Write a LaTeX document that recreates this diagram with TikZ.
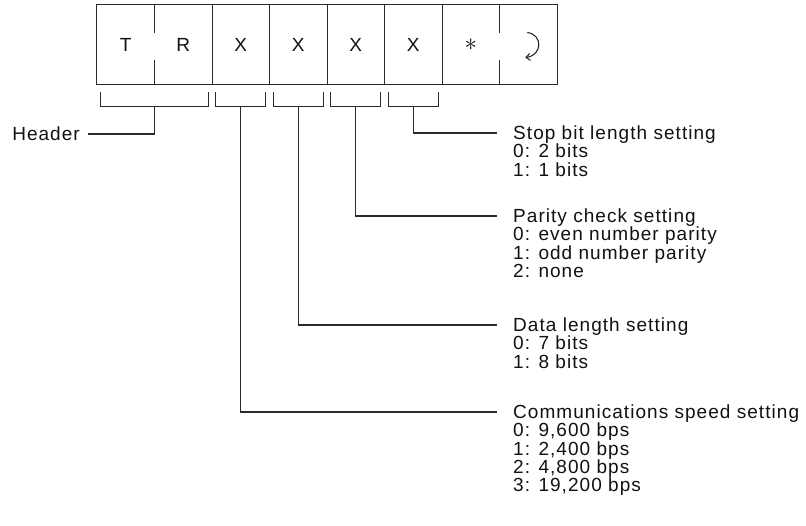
\documentclass[tikz,border=0pt]{standalone}
\usepackage{fontspec}
\setmainfont{Liberation Sans}[LetterSpace=5.5]
\usetikzlibrary{arrows.meta,positioning,calc}
\definecolor{ink}{HTML}{111111}
\definecolor{rule}{HTML}{2A2A2A}
\tikzset{
  every node/.append style = {text=ink},
  % --- command frame ------------------------------------------------------
  cell/.style    = {minimum width=57.5pt, minimum height=79pt, inner sep=0pt,
                    font=\fontsize{19}{18.2}\selectfont},
  frame/.style   = {draw=rule, line width=1.3pt},
  % --- brackets and leaders -----------------------------------------------
  bracket/.style = {draw=rule, line width=1.1pt},
  lead/.style    = {draw=rule, line width=1.1pt},
  % --- labels -------------------------------------------------------------
  title/.style   = {font=\fontsize{19}{18.2}\selectfont, inner sep=0pt,
                    anchor=west, text height=13.6pt, text depth=0pt},
  opts/.style    = {font=\fontsize{19}{18.2}\selectfont, inner sep=0pt,
                    anchor=north west, align=left},
}

\begin{document}
\begin{tikzpicture}[x=1pt, y=-1pt]
\useasboundingbox (0,0) rectangle (806,525);

% ============================ command frame ================================
\foreach \t [count=\i] in {T,R,X,X,X,X,{\fontsize{28}{28}\selectfont$\ast$},{}}
  \node[cell] (c\i) at ({97+57.5*(\i-0.5)},44.5) {\t};

\draw[frame] (c1.north west) rectangle (c8.south east);
\foreach \i in {2,...,6}{ \draw[frame] (c\i.north east) -- (c\i.south east); }
\foreach \i in {1,7}{
  \draw[frame] (c\i.north east) -- ++(0,28);
  \draw[frame] (c\i.south east) -- ++(0,-24);
}

% return mark
\draw[lead, -{Straight Barb[length=4pt,width=7pt]}]
  ([shift={(-1,-12)}]c8.center) .. controls ([shift={(15,-10)}]c8.center)
  and ([shift={(14,11)}]c8.center) .. ([shift={(-3,13)}]c8.center);

% ============================== brackets ===================================
\foreach \a/\b/\n in {1/2/hdr,3/3/spd,4/4/len,5/5/par,6/6/stp}{
  \draw[bracket] ([xshift=4pt,yshift=-8pt]c\a.south west) -- ++(0,14)
                 -| ([xshift=-4pt,yshift=-8pt]c\b.south east);
  \coordinate (\n) at ($(c\a.south west)!0.5!(c\b.south east)+(0,22)$);
}

% =============================== labels ====================================
\node[title, anchor=east] (header) at (80,134) {Header};

\node[title] (stop) at (513,133) {Stop bit length setting};
\node[opts] (stopL) at ([yshift=-4pt]stop.south west)
     {0: 2 bits\\1: 1 bits};

\node[title] (parity) at (513,216) {Parity check setting};
\node[opts] (parityL) at ([yshift=-4pt]parity.south west)
     {0: even number parity\\1: odd number parity\\2: none};

\node[title] (length) at (513,325) {Data length setting};
\node[opts] (lengthL) at ([yshift=-4pt]length.south west)
     {0: 7 bits\\1: 8 bits};

\node[title] (speed) at (513,412) {Communications speed setting};
\node[opts] (speedL) at ([yshift=-4pt]speed.south west)
     {0: 9,600 bps\\1: 2,400 bps\\2: 4,800 bps\\3: 19,200 bps};

% ============================== leaders ====================================
\draw[lead] (hdr) |- ([xshift=8pt]header.east);
\draw[lead] (stp) |- ([xshift=-16pt]stop.west);
\draw[lead] (par) |- ([xshift=-16pt]parity.west);
\draw[lead] (len) |- ([xshift=-16pt]length.west);
\draw[lead] (spd) |- ([xshift=-16pt]speed.west);

\end{tikzpicture}
\end{document}
